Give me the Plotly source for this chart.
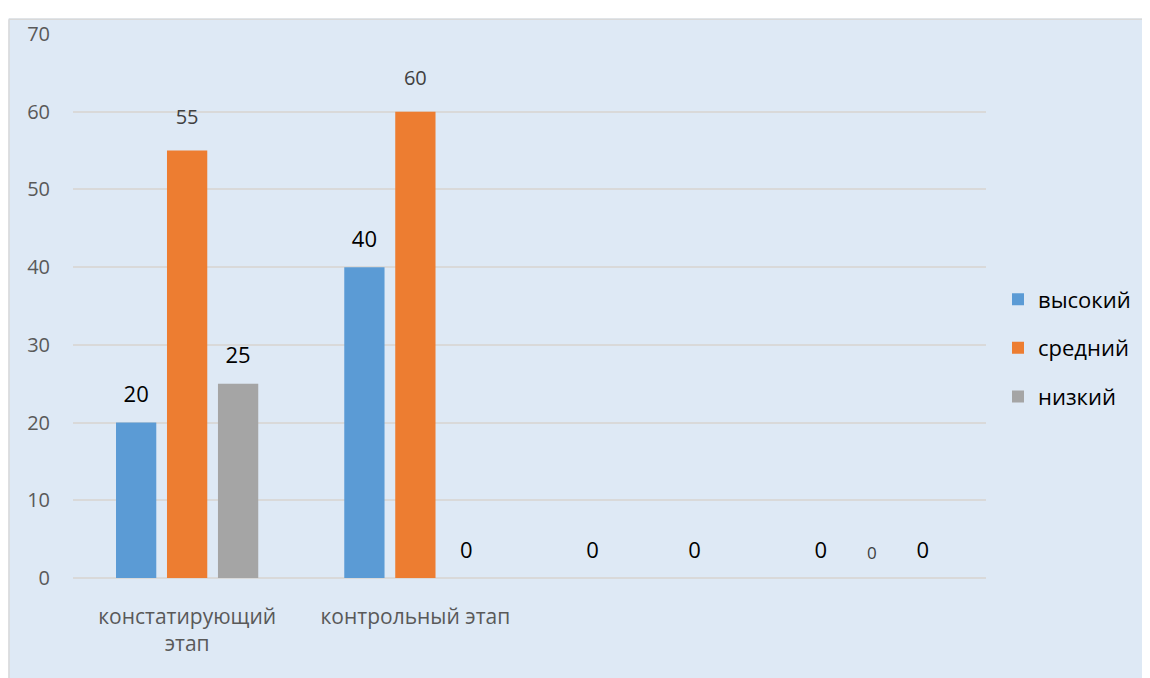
import plotly.graph_objects as go

# ---- data ----
categories = ["констатирующий<br>этап", "контрольный этап", "", ""]
series_names = ["высокий", "средний", "низкий"]
high = [20, 40, 0, 0]
medium = [55, 60, 0, 0]
low = [25, 0, 0, 0]
y_ticks = [0, 10, 20, 30, 40, 50, 60, 70]

# label texts as shown on the chart (one medium label is absent)
high_labels = ["20", "40", "0", "0"]
medium_labels = ["55", "60", "", "0"]
low_labels = ["25", "0", "0", "0"]

# ---- styles ----
colors = ["#5B9BD5", "#ED7D31", "#A5A5A5"]
FONT = "Open Sans"
BIG = dict(size=22, color="#000000", pad=22)
SMALL = dict(size=20, color="#404040", pad=33)
TINY = dict(size=17, color="#404040", pad=22)
high_fonts = [BIG, BIG, BIG, BIG]
medium_fonts = [SMALL, SMALL, SMALL, TINY]
low_fonts = [BIG, BIG, BIG, BIG]

x_idx = list(range(len(categories)))
OFF = 8  # browser body margin
W, H = 1150 - OFF, 678 - OFF
ML, MT = 73 - OFF, 27 - OFF
PW, PH = 913, 551
MR, MB = W - ML - PW, H - MT - PH


def px(xp):  # page x -> paper x
    return (xp - OFF - ML) / PW


def py(yp):  # page y -> paper y
    return (MT + PH - (yp - OFF)) / PH


fig = go.Figure()

values = [high, medium, low]
labels = [high_labels, medium_labels, low_labels]
fonts = [high_fonts, medium_fonts, low_fonts]

for name, vals, col in zip(series_names, values, colors):
    fig.add_trace(go.Bar(
        x=x_idx, y=vals, name=name, marker=dict(color=col, line=dict(width=0)),
        legendgroup=name, offsetgroup=name, hoverinfo="skip",
    ))

for name, vals, labs, fnts in zip(series_names, values, labels, fonts):
    fig.add_trace(go.Scatter(
        x=x_idx, y=vals, mode="markers+text", text=labs,
        textposition="top center",
        textfont=dict(family=FONT, size=[f["size"] for f in fnts],
                      color=[f["color"] for f in fnts]),
        marker=dict(size=[f["pad"] for f in fnts], opacity=0),
        showlegend=False, hoverinfo="skip", offsetgroup=name, cliponaxis=False,
    ))

BORDER = dict(color="#D9D9D9", width=1.5)
fig.update_layout(
    width=W, height=H,
    margin=dict(l=ML, r=MR, t=MT, b=MB, pad=0),
    paper_bgcolor="#DEE9F5",
    plot_bgcolor="rgba(0,0,0,0)",
    barmode="group",
    bargap=0.33,
    bargroupgap=0.21,
    scattermode="group",
    scattergap=0.33,
    font=dict(family=FONT, color="#595959"),
    showlegend=True,
    legend=dict(
        x=px(998), xanchor="left",
        y=py(345), yanchor="middle",
        font=dict(family=FONT, size=22, color="#000000"),
        bgcolor="rgba(0,0,0,0)",
        tracegroupgap=17,
        traceorder="grouped",
    ),
    shapes=[
        # white strips outside the chart frame (top and left)
        dict(type="rect", xref="paper", yref="paper", layer="below",
             x0=px(0), x1=px(1200), y0=py(11), y1=py(-20),
             fillcolor="#FFFFFF", line=dict(width=0)),
        dict(type="rect", xref="paper", yref="paper", layer="below",
             x0=px(-20), x1=px(8.5), y0=py(700), y1=py(-20),
             fillcolor="#FFFFFF", line=dict(width=0)),
        # frame lines
        dict(type="line", xref="paper", yref="paper", layer="below",
             x0=px(9), x1=px(1200), y0=py(12), y1=py(12), line=BORDER),
        dict(type="line", xref="paper", yref="paper", layer="below",
             x0=px(9), x1=px(9), y0=py(12), y1=py(700), line=BORDER),
    ],
)

fig.update_xaxes(
    range=[-0.5, len(categories) - 0.5],
    tickmode="array", tickvals=x_idx, ticktext=categories,
    showgrid=False, zeroline=False, showline=False, ticks="",
    tickfont=dict(family=FONT, size=21, color="#595959"),
    ticklabelstandoff=24,
)
fig.update_yaxes(
    range=[0, 70], tickmode="array", tickvals=y_ticks,
    showgrid=True, gridcolor="#D9D9D9", gridwidth=1.5,
    zeroline=True, zerolinecolor="#D9D9D9", zerolinewidth=1.5,
    showline=False, ticks="",
    tickfont=dict(family=FONT, size=20, color="#595959"),
    ticklabelstandoff=22,
)

fig.write_html("out.html")
